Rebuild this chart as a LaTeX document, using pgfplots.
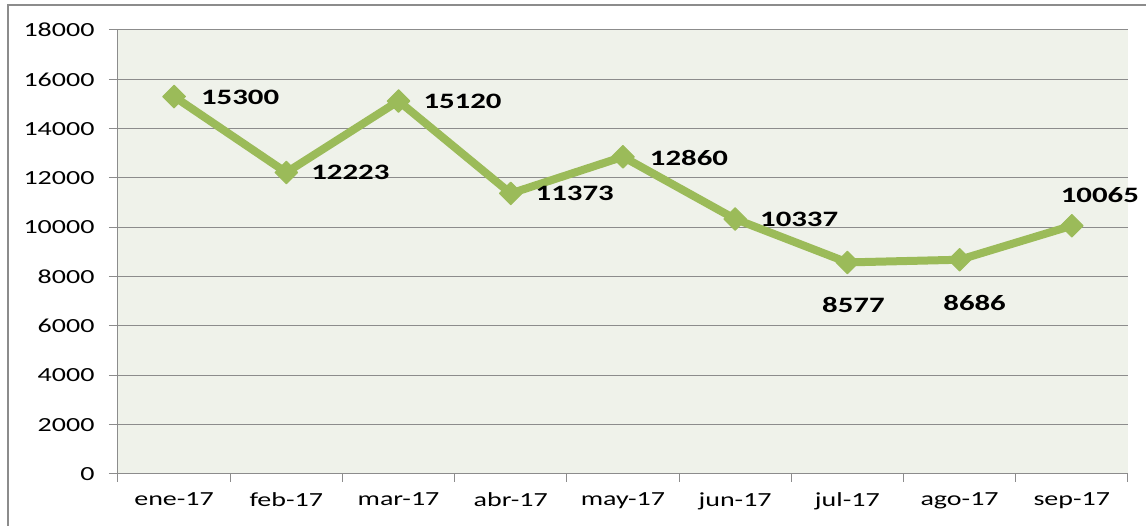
\documentclass[border=0pt]{standalone}
\usepackage{fontspec}
\setmainfont[FakeStretch=1.4]{Carlito}
\usepackage{pgfplots}
\usepackage{pgfplotstable}
\pgfplotsset{compat=1.18}
\definecolor{lg}{HTML}{9BBB59}
\definecolor{bg}{HTML}{EFF2EA}
\definecolor{gr}{HTML}{8C8C8C}
\pgfplotstableread{
x y dx dy
0 15300 66 -1
1 12223 64 0
2 15120 64 0
3 11373 64 0
4 12860 66 -1
5 10337 64 0
6 8577 6 -43
7 8686 15 -43
8 10065 28 31
}\datatable
\begin{document}
\begin{tikzpicture}[x=1pt,y=1pt]
\useasboundingbox (0,0) rectangle (1146,526);
\draw[gr, line width=2pt] (8,-2) -- (8,521) -- (1148,521);
\begin{axis}[
  at={(118pt,52pt)}, anchor=south west,
  scale only axis, width=1010pt, height=444pt,
  xmin=-0.5, xmax=8.5, ymin=0, ymax=18000,
  axis background/.style={fill=bg},
  xtick={0,...,8},
  xticklabels={ene-17,feb-17,mar-17,abr-17,may-17,jun-17,jul-17,ago-17,sep-17},
  major x tick style={draw=none},
  minor xtick={-0.5,0.5,...,8.5},
  ytick={0,2000,...,18000},
  ymajorgrids, grid style={gr, line width=1pt},
  axis x line*=bottom, axis y line*=left,
  tick align=outside, major tick length=9pt, minor tick length=8pt,
  tick style={gr, line width=1pt},
  axis line style={gr, line width=1pt},
  scaled y ticks=false,
  /pgf/number format/assume math mode=true,
  /pgf/number format/1000 sep={},
  tick label style={font=\fontsize{20}{22}\selectfont, text=black},
  y tick label style={xshift=-11pt},
  x tick label style={yshift=-6pt},
  clip=false,
]
\addplot[lg, line width=8pt, line join=round,
  mark=square*, mark size=8pt, mark options={rotate=45, line width=1pt, fill=lg, draw=lg},
  point meta=y,
  visualization depends on={\thisrow{dx} \as \dx},
  visualization depends on={\thisrow{dy} \as \dy},
  nodes near coords={\pgfmathprintnumber[fixed,precision=0,1000 sep={}]{\pgfplotspointmeta}},
  every node near coord/.append style={anchor=center, xshift=\dx pt, yshift=\dy pt,
     font=\fontsize{22}{24}\selectfont\bfseries, text=black},
] table[x=x,y=y] {\datatable};
\end{axis}
\end{tikzpicture}
\end{document}
